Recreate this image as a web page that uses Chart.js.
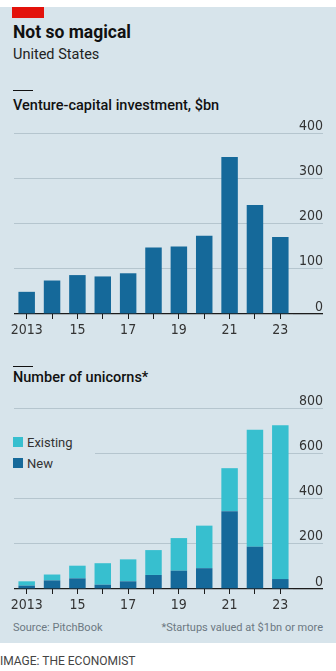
<!DOCTYPE html>
<html>
<head>
<meta charset="utf-8">
<script src="https://cdn.jsdelivr.net/npm/chart.js@4.4.0/dist/chart.umd.min.js"></script>
<style>
    body { margin: 0; width: 336px; height: 671px; background: #fff; position: relative; overflow: hidden; font-family: Roboto, sans-serif; }
    #panel { position: absolute; left: 0; top: 7px; width: 336px; height: 636px; background: #d7e4eb; }
    .abs { position: absolute; white-space: nowrap; line-height: 1; }
    #tag { left: 12px; top: 7px; width: 32px; height: 11px; background: #e3120b; }
    #title { left: 13px; top: 24px; font-size: 17.5px; font-weight: 700; color: #111; }
    #subtitle { left: 13px; top: 48px; font-size: 14.5px; color: #222; }
    .rule { left: 13px; width: 20px; height: 1px; background: #111; }
    .heading { left: 13px; font-size: 14.5px; font-weight: 500; color: #111; }
    #legend { left: 9px; top: 432px; width: 86px; height: 42px; background: #d7e4eb; }
    .key { position: absolute; left: 4px; width: 10px; height: 10px; }
    .keytext { position: absolute; left: 18px; font-size: 13px; color: #333; line-height: 1; }
    .note { font-size: 11px; color: #6c7882; top: 622px; }
    #credit { left: 0; top: 655px; font-size: 12px; color: #444; }
    canvas { position: absolute; left: 0; }
</style>
</head>
<body>
<div id="panel"></div>
<div id="tag" class="abs"></div>
<div id="title" class="abs">Not so magical</div>
<div id="subtitle" class="abs">United States</div>

<div class="abs rule" style="top:90px"></div>
<div class="abs heading" style="top:99px">Venture-capital investment, $bn</div>
<canvas id="vcChart" style="top:118px" width="336" height="225"></canvas>

<div class="abs rule" style="top:366px"></div>
<div class="abs heading" style="top:371px">Number of unicorns*</div>
<canvas id="unicornChart" style="top:393px" width="336" height="225"></canvas>
<div id="legend" class="abs"></div>

<div class="abs note" style="left:13px">Source: PitchBook</div>
<div class="abs note" style="right:13px">*Startups valued at $1bn or more</div>
<div id="credit" class="abs">IMAGE: THE ECONOMIST</div>

<script>
const years = ["2013", "2014", "2015", "2016", "2017", "2018", "2019", "2020", "2021", "2022", "2023"];
const yearLabels = ["2013", "", "15", "", "17", "", "19", "", "21", "", "23"];

// venture-capital investment, $bn
const vcInvestment = [49, 74, 86, 83, 90, 147, 149, 173, 347, 241, 170];

// unicorns: newly minted vs already existing
const newUnicorns = [15, 38, 47, 19, 34, 62, 81, 92, 344, 187, 44];
const existingUnicorns = [19, 26, 56, 95, 97, 110, 144, 188, 190, 517, 680];

const DARK_BLUE = "#15699a";
const LIGHT_BLUE = "#37bfcf";
const GRID = "#b5c5ce";
const AXIS = "#1c1c1c";
const TEXT = "#333333";
const LABEL_FONT = "'Liberation Sans Narrow', 'DejaVu Sans Condensed', Roboto, sans-serif";

function makeOptions(maxVal, step) {
    return {
        responsive: false,
        animation: false,
        layout: { padding: { left: 14, right: 13, top: 15, bottom: 0 } },
        plugins: { legend: { display: false }, tooltip: { enabled: false } },
        scales: {
            x: {
                stacked: true,
                border: { display: false },
                grid: {
                    offset: false,
                    drawOnChartArea: false,
                    drawTicks: true,
                    tickLength: 5,
                    tickColor: AXIS
                },
                ticks: {
                    autoSkip: false,
                    maxRotation: 0,
                    padding: 3,
                    color: TEXT,
                    font: { family: LABEL_FONT, size: 14 },
                    callback: (val, i) => yearLabels[i]
                },
                afterFit: scale => { scale.height = 29; }
            },
            y: {
                stacked: true,
                position: "right",
                min: 0,
                max: maxVal,
                border: { display: false },
                grid: {
                    color: ctx => (ctx.tick && ctx.tick.value === 0 ? AXIS : GRID),
                    lineWidth: ctx => (ctx.tick && ctx.tick.value === 0 ? 1.3 : 1),
                    drawTicks: true,
                    tickLength: 30
                },
                ticks: {
                    stepSize: step,
                    crossAlign: "far",
                    padding: 0,
                    labelOffset: -7,
                    color: TEXT,
                    font: { family: LABEL_FONT, size: 14 }
                },
                afterFit: scale => { scale.width = 30; }
            }
        }
    };
}

new Chart(document.getElementById("vcChart"), {
    type: "bar",
    data: {
        labels: years,
        datasets: [{
            label: "Venture-capital investment, $bn",
            data: vcInvestment,
            backgroundColor: DARK_BLUE,
            barPercentage: 0.65,
            categoryPercentage: 1
        }]
    },
    options: makeOptions(400, 100)
});

const unicornChart = new Chart(document.getElementById("unicornChart"), {
    type: "bar",
    data: {
        labels: years,
        datasets: [{
            label: "New",
            data: newUnicorns,
            backgroundColor: DARK_BLUE,
            barPercentage: 0.65,
            categoryPercentage: 1
        }, {
            label: "Existing",
            data: existingUnicorns,
            backgroundColor: LIGHT_BLUE,
            barPercentage: 0.65,
            categoryPercentage: 1
        }]
    },
    options: makeOptions(800, 200)
});

// legend lists Existing above New, as stacked
const legend = document.getElementById("legend");
unicornChart.data.datasets.slice().reverse().forEach((ds, i) => {
    const top = 5 + i * 21;
    legend.innerHTML +=
        `<div class="key" style="top:${top}px;background:${ds.backgroundColor}"></div>` +
        `<div class="keytext" style="top:${top - 1}px">${ds.label}</div>`;
});
</script>
</body>
</html>
